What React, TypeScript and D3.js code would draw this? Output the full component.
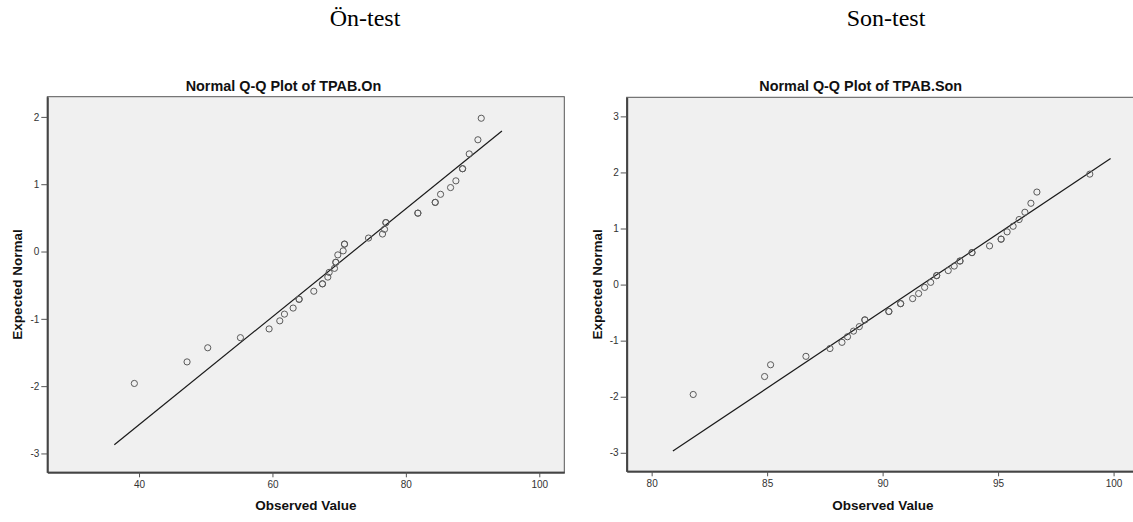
import * as d3 from 'd3';
import { useEffect, useRef } from 'react';

// Ön-test (TPAB.On): observed value vs expected normal, ties repeated
const onObserved = [39.3, 47.2, 50.3, 55.2, 59.5, 61.1, 61.8, 63.1, 64.0, 64.0, 66.2, 67.5, 67.5, 68.3, 68.5, 69.3, 69.5, 69.5, 69.8, 70.6, 70.8, 70.8, 74.4, 76.5, 76.8, 77.0, 77.0, 81.8, 81.8, 84.4, 84.4, 85.2, 86.7, 87.5, 88.5, 88.5, 89.5, 90.8, 91.3];
const onExpected = [-1.96, -1.64, -1.43, -1.28, -1.15, -1.03, -0.93, -0.84, -0.71, -0.71, -0.59, -0.48, -0.48, -0.38, -0.31, -0.25, -0.16, -0.16, -0.05, 0.01, 0.11, 0.11, 0.20, 0.26, 0.33, 0.43, 0.43, 0.57, 0.57, 0.73, 0.73, 0.85, 0.95, 1.05, 1.23, 1.23, 1.45, 1.66, 1.98];
const onLineX = [36.3, 94.4];
const onLineZ = [-2.87, 1.79];
const onXTicks = [40, 60, 80, 100];
const onYTicks = [-3, -2, -1, 0, 1, 2];

// Son-test (TPAB.Son)
const sonObserved = [81.8, 84.89, 85.15, 86.68, 87.72, 88.24, 88.48, 88.74, 88.99, 89.23, 89.23, 90.27, 90.27, 90.78, 90.78, 91.3, 91.56, 91.82, 92.08, 92.34, 92.34, 92.84, 93.1, 93.35, 93.35, 93.87, 93.87, 94.63, 95.13, 95.13, 95.39, 95.65, 95.91, 96.16, 96.42, 96.68, 98.97];
const sonExpected = [-1.96, -1.64, -1.43, -1.28, -1.14, -1.03, -0.93, -0.83, -0.75, -0.63, -0.63, -0.48, -0.48, -0.34, -0.34, -0.25, -0.16, -0.05, 0.04, 0.16, 0.16, 0.25, 0.33, 0.42, 0.42, 0.57, 0.57, 0.69, 0.81, 0.81, 0.94, 1.04, 1.16, 1.29, 1.45, 1.65, 1.97];
const sonLineX = [80.92, 99.87];
const sonLineZ = [-2.97, 2.25];
const sonXTicks = [80, 85, 90, 95, 100];
const sonYTicks = [-3, -2, -1, 0, 1, 2, 3];

const headings = ['Ön-test', 'Son-test'];
const chartTitles = ['Normal Q-Q Plot of TPAB.On', 'Normal Q-Q Plot of TPAB.Son'];

export default function App() {
  const ref = useRef<SVGSVGElement>(null);

  useEffect(() => {
    const svg = d3.select(ref.current);
    svg.selectAll('*').remove();
    const sans = 'Arial, "Liberation Sans", sans-serif';

    const panels = [
      {
        obs: onObserved, exp: onExpected, lx: onLineX, lz: onLineZ, xt: onXTicks, yt: onYTicks,
        xd: [26.25, 103.75], yd: [-3.28, 2.30], left: 47.3, right: 564.3, top: 96.7, bottom: 472.3,
        head: headings[0], headX: 365, title: chartTitles[0], titleX: 283.5, ylabX: 21.5,
      },
      {
        obs: sonObserved, exp: sonExpected, lx: sonLineX, lz: sonLineZ, xt: sonXTicks, yt: sonYTicks,
        xd: [78.92, 101.1], yd: [-3.33, 3.34], left: 626.7, right: 1139, top: 97.3, bottom: 471.3,
        head: headings[1], headX: 886, title: chartTitles[1], titleX: 860.7, ylabX: 601.5,
      },
    ];

    panels.forEach(p => {
      const x = d3.scaleLinear().domain(p.xd).range([p.left, p.right]);
      const y = d3.scaleLinear().domain(p.yd).range([p.bottom, p.top]);
      const g = svg.append('g');

      g.append('text')
        .attr('x', p.headX).attr('y', 26)
        .attr('text-anchor', 'middle')
        .style('font-family', '"Liberation Serif", serif')
        .style('font-size', '24px')
        .text(p.head);

      g.append('text')
        .attr('x', p.titleX).attr('y', 90.5)
        .attr('text-anchor', 'middle')
        .style('font-family', sans)
        .style('font-size', '14.4px').style('font-weight', 'bold')
        .attr('fill', '#111')
        .text(p.title);

      g.append('rect')
        .attr('x', p.left).attr('y', p.top)
        .attr('width', p.right - p.left).attr('height', p.bottom - p.top)
        .attr('fill', '#f0f0f0')
        .attr('stroke', '#555').attr('stroke-width', 1);

      // axes
      const fmt = (d: any) => String(d);
      const xAxis = g.append('g')
        .attr('transform', `translate(0,${p.bottom})`)
        .call(d3.axisBottom(x).tickValues(p.xt).tickSize(5).tickSizeOuter(0).tickPadding(4).tickFormat(fmt));
      const yAxis = g.append('g')
        .attr('transform', `translate(${p.left},0)`)
        .call(d3.axisLeft(y).tickValues(p.yt).tickSize(6).tickSizeOuter(0).tickPadding(2).tickFormat(fmt));
      [xAxis, yAxis].forEach(a => {
        a.select('.domain').attr('stroke', '#444').attr('stroke-width', 2);
        a.selectAll('.tick line').attr('stroke', '#555');
        a.selectAll('.tick text').attr('fill', '#333').style('font-family', sans).style('font-size', '10px');
      });

      // fit line
      g.append('line')
        .attr('x1', x(p.lx[0])).attr('y1', y(p.lz[0]))
        .attr('x2', x(p.lx[1])).attr('y2', y(p.lz[1]))
        .attr('stroke', '#1a1a1a').attr('stroke-width', 1.2);

      g.selectAll('circle.pt').data(p.obs).enter().append('circle')
        .attr('class', 'pt')
        .attr('cx', d => x(d))
        .attr('cy', (d, i) => y(p.exp[i]))
        .attr('r', 3.1)
        .attr('fill', 'none')
        .attr('stroke', '#5a5a5a')
        .attr('stroke-width', 1);

      g.append('text')
        .attr('x', (p.left + p.right) / 2).attr('y', 510)
        .attr('text-anchor', 'middle')
        .style('font-family', sans).style('font-size', '13.5px').style('font-weight', 'bold')
        .attr('fill', '#111')
        .text('Observed Value');

      g.append('text')
        .attr('transform', `translate(${p.ylabX},${(p.top + p.bottom) / 2}) rotate(-90)`)
        .attr('text-anchor', 'middle')
        .style('font-family', sans).style('font-size', '13.5px').style('font-weight', 'bold')
        .attr('fill', '#111')
        .text('Expected Normal');
    });
  }, []);

  return (
    <svg ref={ref} width={1133} height={522}
      style={{ position: 'absolute', left: 0, top: 0, background: '#fff' }} />
  );
}
